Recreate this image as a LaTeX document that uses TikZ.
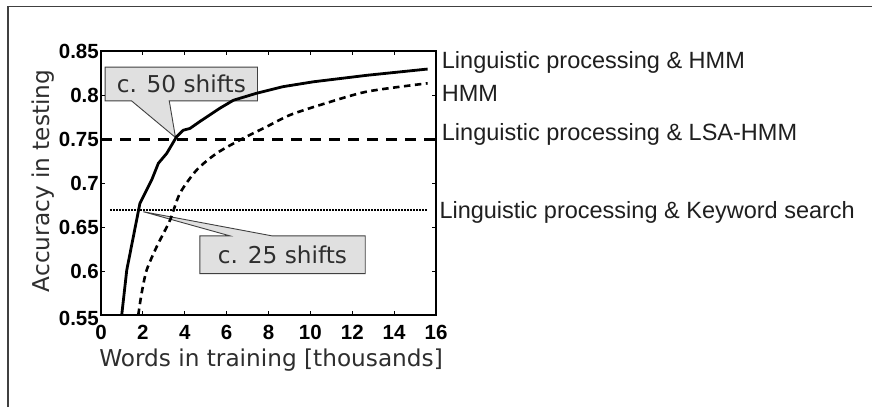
\documentclass[tikz,border=0pt]{standalone}
\usepackage{fontspec}
\setmainfont{Liberation Sans}
\newfontfamily\djv{DejaVu Sans}
\usetikzlibrary{calc,backgrounds}

\tikzset{
  ticklab/.style={inner sep=0pt, text=black, font=\fontsize{20.5}{20.5}\selectfont\bfseries},
  legendlab/.style={inner sep=0pt, anchor=base west, text=black!88, font=\fontsize{23.5}{23.5}\selectfont},
  axislab/.style={inner sep=0pt, text=black!82, font=\djv\fontsize{23.2}{23.2}\selectfont},
  calloutlab/.style={inner sep=0pt, text=black!82, font=\djv\fontsize{23.2}{23.2}\selectfont},
  calloutbox/.style={fill=black!12, draw=black!75, line width=0.9pt, line join=miter},
  framebox/.style={draw=black, line width=1.1pt},
  tickmark/.style={draw=black, line width=0.9pt},
  hmmling/.style={line width=2.8pt, line join=round},
  hmmplain/.style={line width=2.6pt, dash pattern=on 6.5pt off 4.5pt},
  lsaline/.style={line width=2.9pt, dash pattern=on 11pt off 8pt},
  kwline/.style={line width=1.8pt, dash pattern=on 1.5pt off 1.5pt},
}

\begin{document}
\begin{tikzpicture}[x=1pt, y=-1pt]
\useasboundingbox (0,0) rectangle (872,407);

% outer page frame (only its top and left edges fall inside the page)
\draw[black!75, line width=1.4pt] (8,407) -- (8,6.5) -- (872,6.5);

% ---- callouts: text nodes, with their boxes and pointers behind ----
\node[calloutlab, minimum width=152pt, minimum height=33.4pt] (b50) at (181.3,84) {c. 50 shifts};
\node[calloutlab, minimum width=165pt, minimum height=37.3pt] (b25) at (282.5,254.7) {c. 25 shifts};
\coordinate (tip50) at (175.5,137.5);
\coordinate (tip25) at (143.3,211.7);

\begin{pgfonlayer}{background}
  \fill[white] (0,0) rectangle (872,407);
  \draw[calloutbox] (b50.south west) -- (b50.north west) -- (b50.north east) -- (b50.south east)
     -- ($(b50.south west)!0.421!(b50.south east)$) -- (tip50)
     -- ($(b50.south west)!0.174!(b50.south east)$) -- cycle;
  \draw[calloutbox] (b25.north west) -- ($(b25.north west)!0.182!(b25.north east)$) -- (tip25)
     -- ($(b25.north west)!0.436!(b25.north east)$) -- (b25.north east)
     -- (b25.south east) -- (b25.south west) -- cycle;
\end{pgfonlayer}

% ---- axes: x in thousands of words, y as (accuracy - 0.55) * 100 ----
\begin{scope}[shift={(101pt,-315pt)}, x=20.9375pt, y=8.8pt]
  % horizontal reference levels
  \draw[lsaline] (0,19.9) -- (16,19.9);
  \draw[kwline] (0.43,11.93) -- (15.6,11.93);

  % HMM
  \draw[hmmplain] plot[smooth, tension=0.45] coordinates {
    (1.78,0) (1.94,2.47) (2.18,5.1) (2.66,7.76) (3.30,10.8) (3.77,13.83)
    (4.57,16.48) (5.52,18.37) (6.64,19.89) (7.91,21.4) (9.03,22.73)
    (10.46,23.86) (12.69,25.38) (15.6,26.33)};

  % Linguistic processing & HMM
  \draw[hmmling] plot coordinates {
    (0.99,0) (1.23,5.1) (1.86,12.7) (2.02,13.44) (2.42,15.34) (2.74,17.24)
    (3.14,18.37) (3.61,20.26) (3.93,21.0) (4.25,21.2) (4.73,22.0) (5.68,23.5)
    (6.32,24.4) (7.43,25.2) (8.7,25.95) (10.14,26.5) (12.7,27.24) (15.6,27.95)};

  % frame and ticks
  \draw[framebox] (0,0) rectangle (16,30);
  \foreach \t in {2,4,...,14} {
    \draw[tickmark] (\t,0) -- ++(0,3.6pt);
    \draw[tickmark] (\t,30) -- ++(0,-3.6pt);
  }
  \foreach \t in {5,10,...,25} {
    \draw[tickmark] (0,\t) -- ++(3.6pt,0);
    \draw[tickmark] (16,\t) -- ++(-3.6pt,0);
  }

  % tick labels
  \foreach \t in {0,2,...,16}
    \node[ticklab, anchor=north] (xl\t) at ($(\t,0)+(0,-10pt)$) {\t};
  \node[ticklab, anchor=east] (yl55) at ($(0,0)+(-2pt,-3.3pt)$) {0.55};
  \node[ticklab, anchor=east] (yl60) at ($(0,5)+(-2pt,0)$) {0.6};
  \node[ticklab, anchor=east] (yl65) at ($(0,10)+(-2pt,0)$) {0.65};
  \node[ticklab, anchor=east] (yl70) at ($(0,15)+(-2pt,0)$) {0.7};
  \node[ticklab, anchor=east] (yl75) at ($(0,20)+(-2pt,0)$) {0.75};
  \node[ticklab, anchor=east] (yl80) at ($(0,25)+(-2pt,0)$) {0.8};
  \node[ticklab, anchor=east] (yl85) at ($(0,30)+(-2pt,0)$) {0.85};
\end{scope}

% axis titles
\node[axislab, anchor=base] (xtitle) at (271,366.7) {Words in training [thousands]};
\node[axislab, anchor=base, rotate=90] (ytitle) at (49,181) {Accuracy in testing};

% series labels
\node[legendlab] (lab1) at (441.7,68.3) {Linguistic processing \& HMM};
\node[legendlab] (lab2) at (441.7,101.7) {HMM};
\node[legendlab] (lab3) at (441.7,140) {Linguistic processing \& LSA-HMM};
\node[legendlab] (lab4) at (439.3,218.3) {Linguistic processing \& Keyword search};
\end{tikzpicture}
\end{document}
